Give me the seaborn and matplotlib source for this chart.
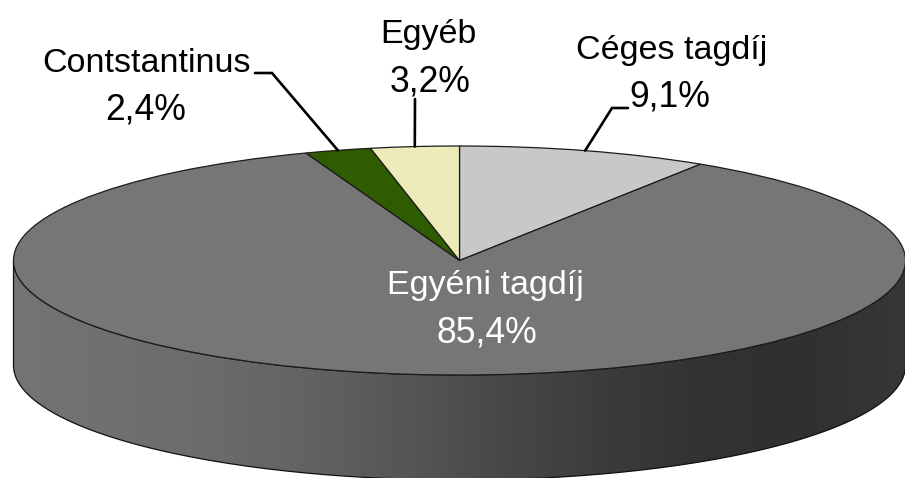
import numpy as np
import seaborn as sns
import matplotlib
matplotlib.use('Agg')
import matplotlib.pyplot as plt
from matplotlib.path import Path
from matplotlib.patches import PathPatch

# data, clockwise from 12 o'clock
labels = ['Céges tagdíj', 'Egyéni tagdíj', 'Contstantinus', 'Egyéb']
values = [9.1, 85.4, 2.4, 3.2]
value_labels = ['9,1%', '85,4%', '2,4%', '3,2%']
colors = ['#C8C8C8', '#767676', '#2F5C00', '#EEEBBB']

# side wall shading, left to right
side_greys = ['#747474', '#707070', '#6B6B6B', '#626262', '#555555',
              '#474747', '#3B3B3B', '#323232', '#303030', '#373737']

sns.set_theme(style='white')
plt.rcParams['font.family'] = ['Liberation Sans', 'DejaVu Sans']

W, H = 905, 478
CX, CY, RX, RY = 459.5, 260.5, 446.0, 114.5
DEPTH = 105 / RY


def px(x, y):
    # picture pixels to data units of the squashed pie
    return (x - CX) / RX, (CY - y) / RY


fig = plt.figure(figsize=(W / 100, H / 100), dpi=100)
ax = fig.add_axes([0, 0, 1, 1])

# top of the pie
wedges, _ = ax.pie(values, colors=colors, startangle=90, counterclock=False,
                   radius=1, wedgeprops=dict(edgecolor='#1c1c1c', linewidth=0.9, zorder=3))

# side wall: gradient clipped to the band under the front edge
t = np.radians(np.linspace(180, 360, 200))
top_edge = np.column_stack([np.cos(t), np.sin(t)])
low_edge = (top_edge - [0, DEPTH])[::-1]
band = np.vstack([top_edge, low_edge, top_edge[:1]])
side = PathPatch(Path(band), facecolor='none', edgecolor='#111111', linewidth=0.9, zorder=2)
ax.add_patch(side)
cmap = sns.blend_palette(side_greys, as_cmap=True)
img = ax.imshow(np.linspace(0, 1, 300)[None, :], cmap=cmap, aspect='auto', zorder=1,
                extent=(-1, 1, -1 - DEPTH, 0), vmin=0, vmax=1)
img.set_clip_path(side)

ax.set_aspect('auto')
ax.set_xlim(px(0, 0)[0], px(W, 0)[0])
ax.set_ylim(px(0, H)[1], px(0, 0)[1])
ax.axis('off')

# label centre x, name baseline, value baseline
text_pos = [(672, 59, 107, 670), (485, 294, 343, 487), (146, 72, 120, 146), (428, 43, 92, 430)]
text_cols = ['black', 'white', 'black', 'black']
for name, val, (x1, y1, y2, x2), c in zip(labels, value_labels, text_pos, text_cols):
    tx, ty = px(x1, y1)
    ax.text(tx, ty, name, color=c, fontsize=24.5, ha='center', va='baseline', zorder=5)
    tx, ty = px(x2, y2)
    ax.text(tx, ty, val, color=c, fontsize=25.6, ha='center', va='baseline', zorder=5)

# leader lines end on the rim at the middle of each slice
shares = np.array(values) / sum(values)
mids = np.cumsum(shares) - shares / 2
leaders = {0: [(628, 108), (612, 108)], 2: [(255, 73), (272, 73)], 3: [(415, 99)]}
for i, pts in leaders.items():
    a = 2 * np.pi * mids[i]
    xy = [px(*p) for p in pts] + [(np.sin(a), np.cos(a))]
    ax.plot(*zip(*xy), color='black', lw=1.9, zorder=4, solid_joinstyle='miter')

fig.savefig('out.png', dpi=100)
